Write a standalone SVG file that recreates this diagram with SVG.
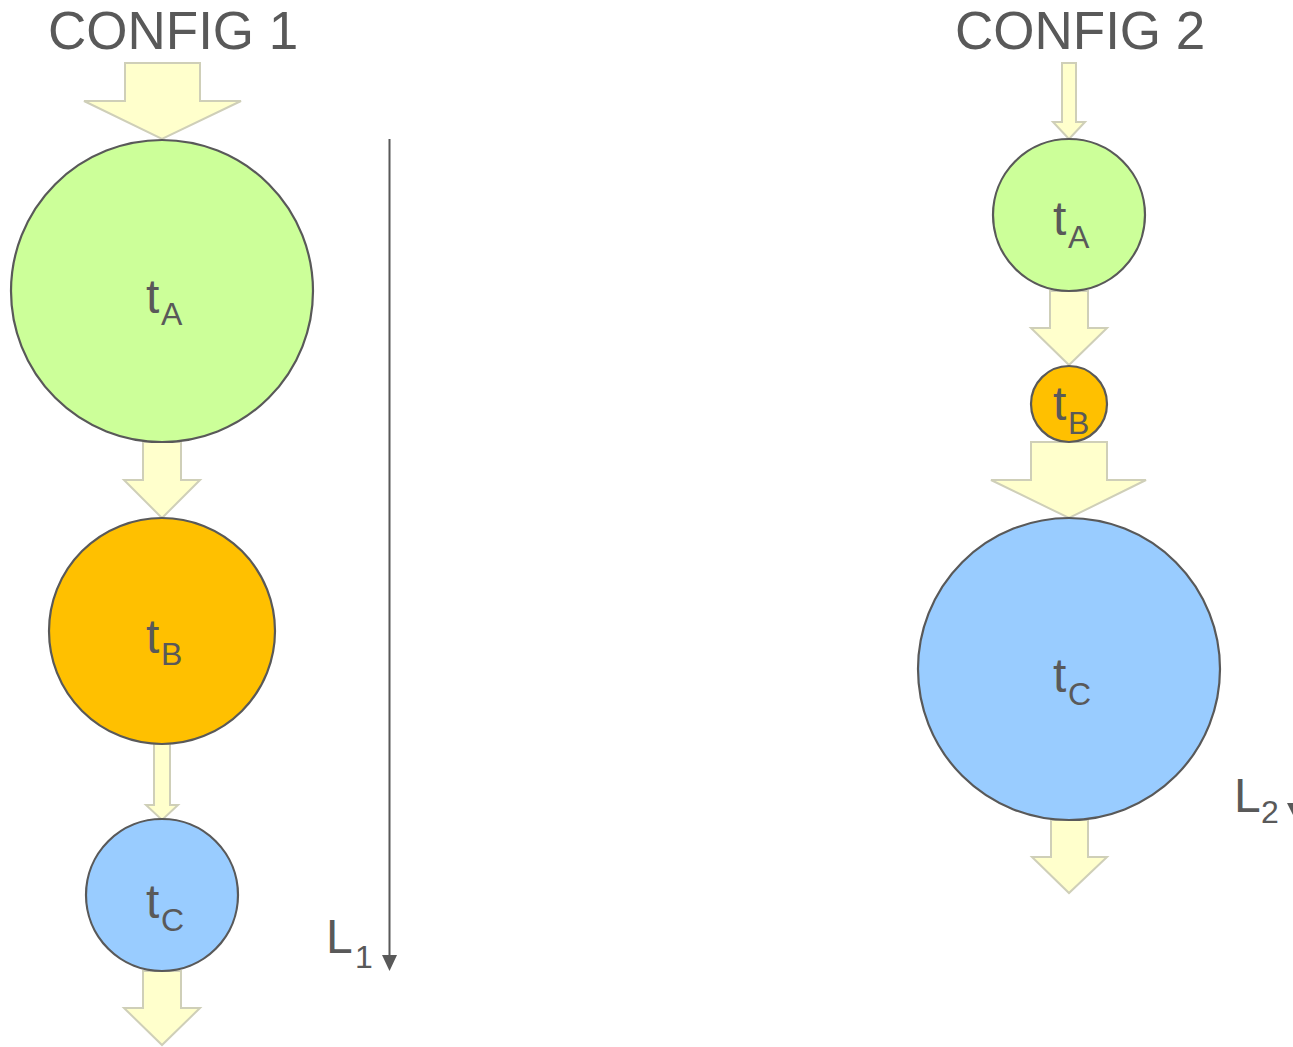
<svg xmlns="http://www.w3.org/2000/svg" width="1293" height="1047" viewBox="0 0 1293 1047">
  <style>
    .title { font-family: "Liberation Sans", Arial, sans-serif; font-size: 53px; fill: #595959; }
    .lbl { font-family: "Liberation Sans", Arial, sans-serif; font-size: 48px; fill: #595959; }
    .sub { font-size: 32px; }
    .flow { fill: #ffffcc; stroke: #cfcfb8; stroke-width: 2; stroke-linejoin: miter; }
    .node { stroke: #595959; stroke-width: 2.2; }
    .green { fill: #ccff99; }
    .orange { fill: #ffc000; }
    .blue { fill: #99ccff; }
    .measure { stroke: #595959; stroke-width: 2; fill: none; }
  </style>

  <rect width="1293" height="1047" fill="#ffffff"/>

  <text class="title" x="48" y="49">CONFIG 1</text>
  <text class="title" x="955" y="49">CONFIG 2</text>

  <!-- flow arrows -->
  <g id="connectors">
    <!-- configuration 1 -->
    <polygon class="flow" points="125,63 200,63 200,101 241,101 162,139 84,101 125,101"/>
    <polygon class="flow" points="143,442 181,442 181,480 200,480 162,518 124,480 143,480"/>
    <polygon class="flow" points="154,744 170,744 170,805 178,805 162,820 146,805 154,805"/>
    <polygon class="flow" points="143,971 181,971 181,1008 200,1008 162,1045 124,1008 143,1008"/>
    <!-- configuration 2 -->
    <polygon class="flow" points="1062,63 1076,63 1076,122 1085,122 1069,139 1053,122 1062,122"/>
    <polygon class="flow" points="1050,291 1088,291 1088,328 1107,328 1069,365 1031,328 1050,328"/>
    <polygon class="flow" points="1031,442 1107,442 1107,480 1146,480 1069,518 991,480 1031,480"/>
    <polygon class="flow" points="1051,820 1088,820 1088,857 1107,857 1069,893 1032,857 1051,857"/>
    <!-- total length measures -->
    <line class="measure" x1="389.5" y1="139" x2="389.5" y2="957"/>
    <polygon points="382,955 397,955 389.5,971" fill="#595959"/>
    <line class="measure" x1="1295" y1="139" x2="1295" y2="805"/>
    <polygon points="1287,803 1303,803 1295,819" fill="#595959"/>
  </g>

  <!-- configuration 1 stages -->
  <g id="c1-a">
    <circle class="node green" cx="162" cy="291" r="151"/>
    <text class="lbl" x="146" y="313">t</text><text class="lbl sub" x="161" y="325">A</text>
  </g>
  <g id="c1-b">
    <circle class="node orange" cx="162" cy="631" r="113"/>
    <text class="lbl" x="146" y="653">t</text><text class="lbl sub" x="161" y="665">B</text>
  </g>
  <g id="c1-c">
    <circle class="node blue" cx="162" cy="895" r="76"/>
    <text class="lbl" x="146" y="918">t</text><text class="lbl sub" x="161" y="931">C</text>
  </g>

  <!-- configuration 2 stages -->
  <g id="c2-a">
    <circle class="node green" cx="1069" cy="215" r="76"/>
    <text class="lbl" x="1053" y="235">t</text><text class="lbl sub" x="1068" y="248">A</text>
  </g>
  <g id="c2-b">
    <circle class="node orange" cx="1069" cy="404" r="38"/>
    <text class="lbl" x="1053" y="420">t</text><text class="lbl sub" x="1068" y="434">B</text>
  </g>
  <g id="c2-c">
    <circle class="node blue" cx="1069" cy="669" r="151"/>
    <text class="lbl" x="1053" y="692">t</text><text class="lbl sub" x="1068" y="705">C</text>
  </g>

  <!-- length labels -->
  <g id="len-1">
    <text class="lbl" x="326" y="953" font-size="50">L</text><text class="lbl sub" x="355" y="968" font-size="34">1</text>
  </g>
  <g id="len-2">
    <text class="lbl" x="1234" y="812" font-size="50">L</text><text class="lbl sub" x="1261" y="823" font-size="34">2</text>
  </g>
</svg>
